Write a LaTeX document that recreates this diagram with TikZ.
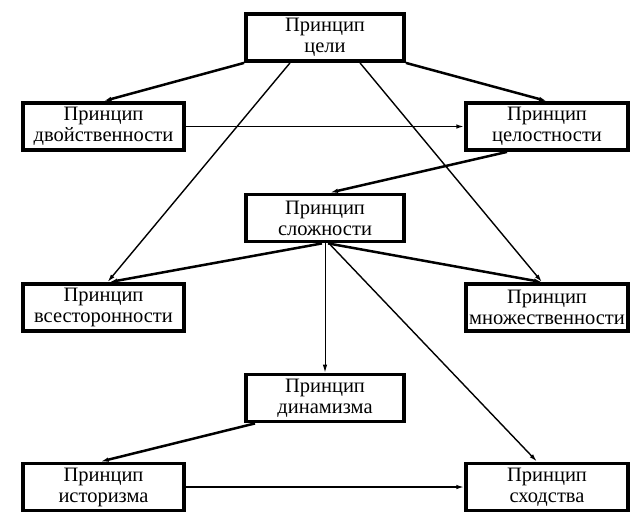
\documentclass[tikz,border=0pt]{standalone}
\usepackage{fontspec}
\setmainfont{Liberation Serif}
\usetikzlibrary{arrows.meta,positioning}
\tikzset{
  principle/.style={draw,line width=3.8pt,minimum width=158pt,minimum height=47pt,
    inner sep=0pt,align=center,font=\fontsize{20.5}{21}\selectfont},
  sideprinciple/.style={principle,minimum width=161.5pt},
  link/.style={-{Latex[length=8pt,width=4.5pt]},line width=1.4pt},
  boldlink/.style={link,line width=2.5pt}
}
\begin{document}
\begin{tikzpicture}[x=1pt,y=-1pt]
  \useasboundingbox (0,0) rectangle (634,512);
  % principles
  \node[principle] (goal) at (325,37.5) {Принцип\\цели};
  \node[sideprinciple] (dual) at (103.5,126.5) {Принцип\\двойственности};
  \node[sideprinciple] (integ) at (547,126.5) {Принцип\\целостности};
  \node[principle] (compl) at (325,218) {Принцип\\сложности};
  \node[sideprinciple] (allside) at (103.5,307.5) {Принцип\\всесторонности};
  \node[sideprinciple] (mult) at (547,307.5) {Принцип\\множественности};
  \node[principle] (dyn) at (325,398) {Принцип\\динамизма};
  \node[sideprinciple] (hist) at (103.5,487) {Принцип\\историзма};
  \node[sideprinciple] (simil) at (547,487) {Принцип\\сходства};
  % links
  \draw[boldlink] (goal.south west) -- (dual.north);
  \draw[boldlink] (goal.south east) -- (integ.north);
  \draw[link] ([xshift=-35pt]goal.south) -- ([xshift=4pt]allside.north);
  \draw[link] ([xshift=35pt]goal.south) -- ([xshift=-5pt]mult.north);
  \draw[link,line width=1.9pt] (dual) -- (integ);
  \draw[boldlink] ([xshift=-40pt]integ.south) -- ([xshift=5pt]compl.north);
  \draw[boldlink] ([xshift=-3pt]compl.south) -- ([xshift=6pt]allside.north);
  \draw[boldlink] ([xshift=3pt]compl.south) -- ([xshift=-5pt]mult.north);
  \draw[link,line width=1pt] (compl) -- (dyn);
  \draw[link] ([xshift=4pt]compl.south) -- ([xshift=-10pt]simil.north);
  \draw[boldlink] ([xshift=-70pt]dyn.south) -- ([xshift=-3pt]hist.north);
  \draw[link,line width=1.9pt] (hist) -- (simil);
\end{tikzpicture}
\end{document}
